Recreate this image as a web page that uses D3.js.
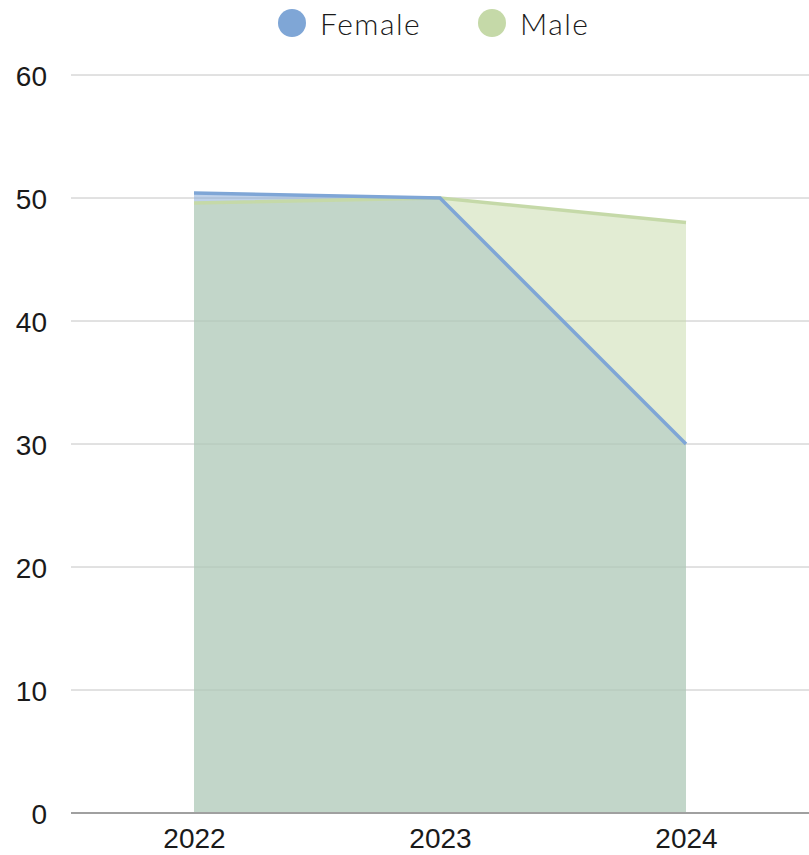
<!DOCTYPE html>
<html><head><meta charset="utf-8">
<script src="https://cdn.jsdelivr.net/npm/d3@7"></script>
<style>body{margin:0;background:#fff;} svg{display:block;font-family:Lato,"Open Sans",sans-serif;}</style>
</head><body>
<svg id="c" width="809" height="855"></svg>
<script>
const years = ["2022", "2023", "2024"];
const female = [50.4, 50, 30];
const male = [49.6, 50, 48];
const yTicks = [0, 10, 20, 30, 40, 50, 60];
const seriesNames = ["Female", "Male"];
const colors = {Female: "#7fa6d6", Male: "#c5d9a8"};

const svg = d3.select("#c");
const m = {l: 71, r: 0, t: 75, b: 42};
const W = 809, H = 855;
const x = d3.scalePoint().domain(years).range([m.l, W - m.r]).padding(0.5);
const y = d3.scaleLinear().domain([0, 60]).range([H - m.b, m.t]);

// grid
svg.append("g").selectAll("line").data(yTicks.filter(d => d > 0)).join("line")
  .attr("x1", m.l).attr("x2", W).attr("y1", d => y(d)).attr("y2", d => y(d))
  .attr("stroke", "#c4c4c4").attr("stroke-width", 1);

const yAxis = d3.axisLeft(y).tickValues(yTicks).tickSize(0).tickPadding(24);
const gy = svg.append("g").attr("transform", `translate(${m.l},0)`).call(yAxis);
gy.select(".domain").remove();
gy.selectAll("text").attr("font-size", 28).attr("fill", "#1a1a1a").attr("font-weight", 300).attr("dy", "0.36em");

const data = [
  {name: "Female", vals: female},
  {name: "Male", vals: male}
];
const area = d3.area().x((d, i) => x(years[i])).y0(y(0)).y1(d => y(d));
const line = d3.line().x((d, i) => x(years[i])).y(d => y(d));

data.forEach(s => {
  svg.append("path").attr("d", area(s.vals)).attr("fill", colors[s.name]).attr("fill-opacity", 0.5);
});
// baseline
svg.append("line").attr("x1", m.l).attr("x2", W).attr("y1", y(0)).attr("y2", y(0))
  .attr("stroke", "#a0a0a0").attr("stroke-width", 2);
data.slice().reverse().forEach(s => {
  svg.append("path").attr("d", line(s.vals)).attr("fill", "none")
    .attr("stroke", colors[s.name]).attr("stroke-width", 3.5);
});

const xAxis = d3.axisBottom(x).tickSize(0).tickPadding(15);
const gx = svg.append("g").attr("transform", `translate(0,${y(0)})`).call(xAxis);
gx.select(".domain").remove();
gx.selectAll("text").attr("font-size", 28).attr("fill", "#1a1a1a").attr("font-weight", 300);

// legend
const leg = svg.append("g");
const legX = [292, 492];
seriesNames.forEach((n, i) => {
  leg.append("circle").attr("cx", legX[i]).attr("cy", 23).attr("r", 14).attr("fill", colors[n]);
  leg.append("text").attr("x", legX[i] + 28).attr("y", 24).attr("dy", "0.36em")
    .attr("font-size", 30).attr("letter-spacing", 1.5).attr("fill", "#1a1a1a").attr("font-weight", 300).text(n);
});
</script>
</body></html>
